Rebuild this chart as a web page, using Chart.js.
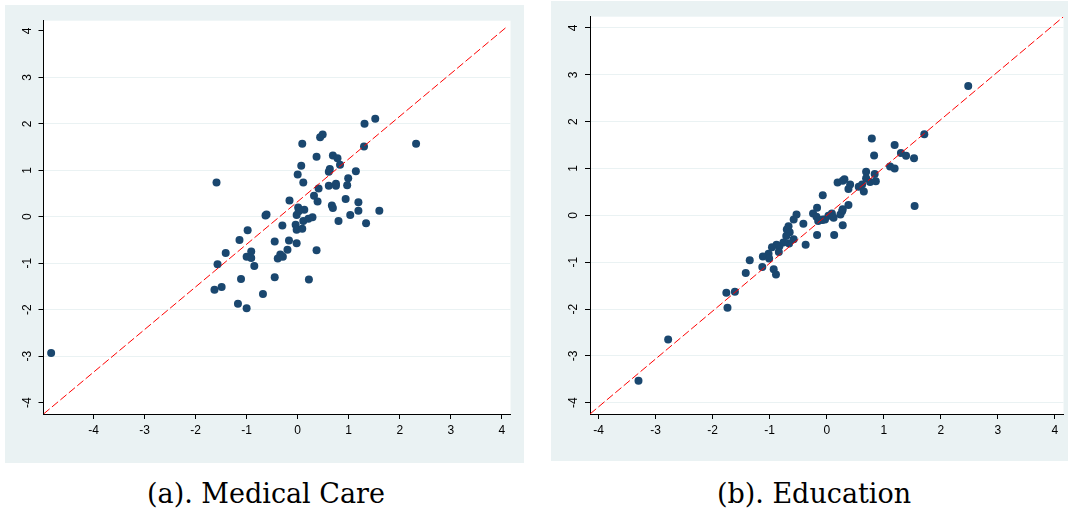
<!DOCTYPE html>
<html>
<head>
<meta charset="utf-8">
<script src="https://cdn.jsdelivr.net/npm/chart.js@4/dist/chart.umd.min.js"></script>
<style>
  body { margin: 0; background: #fff; width: 1068px; height: 508px; position: relative; overflow: hidden; }
  canvas { position: absolute; background: #eaf2f3; }
  #chartA { left: 5px; top: 5px; }
  #chartB { left: 551px; top: 1px; }
  .caption {
    position: absolute; top: 479px; width: 400px; text-align: center;
    font-family: "DejaVu Serif", serif; font-size: 27px; line-height: 30px;
    color: #000; white-space: pre;
  }
</style>
</head>
<body>
<canvas id="chartA" width="519" height="458"></canvas>
<canvas id="chartB" width="517" height="460"></canvas>
<div class="caption" style="left:66px">(a). Medical Care</div>
<div class="caption" style="left:614px">(b). Education</div>
<script>
var tickValues = [-4, -3, -2, -1, 0, 1, 2, 3, 4];

// (a) Medical Care
var medX = [0.09, 0.37, 0.07, 0.00, 0.11, -1.59, 0.32, 0.39, -0.16, 0.01, 0.13, -0.02, 0.02, -0.63, -0.61,
  0.11, 0.21, 0.29, -0.30, -0.04, -0.02, 0.09, -0.98, -1.14, -0.45, -0.17, -0.02, -0.20, -0.34, -0.39,
  -0.29, -0.91, -1.00, -0.91, -1.41, -0.85, -1.57, -1.11, -0.45, -1.63, -1.49, -0.68, -1.17, -1.00, 0.22,
  0.37, 1.52, 1.31, 2.32, 0.44, 0.49, 1.30, 0.69, 0.78, 0.83, 1.14, 0.63, 0.61, 0.99, 0.61,
  0.75, 0.75, 0.97, 0.41, 0.94, 1.19, 1.19, 0.67, 0.69, 1.60, 1.03, 0.80, 1.34, -4.83];
var medY = [1.57, 1.29, 1.10, 0.91, 0.74, 0.74, 0.45, 0.33, 0.35, 0.20, 0.15, 0.04, 0.12, 0.03, 0.05,
  -0.09, -0.04, -0.01, -0.19, -0.17, -0.28, -0.26, -0.29, -0.50, -0.53, -0.51, -0.57, -0.71, -0.81, -0.90,
  -0.86, -0.75, -0.86, -0.89, -0.78, -1.06, -1.02, -1.34, -1.30, -1.57, -1.51, -1.66, -1.87, -1.97, -1.35,
  -0.72, 2.11, 2.00, 1.57, 1.71, 1.77, 1.51, 1.32, 1.26, 1.12, 0.98, 1.03, 0.97, 0.83, 0.67,
  0.71, 0.67, 0.68, 0.61, 0.38, 0.31, 0.13, 0.24, 0.19, 0.13, 0.04, -0.09, -0.14, -2.93];
var medLine = [[-4.98, -4.245], [4.1, 4.09]];

// (b) Education
var eduX = [-0.07, -0.17, -0.24, -0.18, -0.15, -0.07, -0.53, -0.58, -0.41, -0.17, -0.37, -0.58, -0.67, -0.70, -0.65,
  -0.71, -0.66, -0.76, -0.83, -0.88, -0.96, -0.84, -1.02, -1.12, -1.01, -1.35, -1.13, -0.93, -0.89, -1.42,
  -1.76, -1.61, -1.74, 1.71, 0.79, 1.19, 0.83, 1.30, 1.39, 1.53, 1.11, 1.19, 0.69, 0.69, 0.84,
  0.76, 0.86, 0.19, 0.31, 0.28, 0.41, 0.38, 0.56, 0.62, 0.65, 0.38, 0.27, 0.24, 0.28, 0.09,
  0.12, 0.03, -0.03, -0.08, 0.28, 0.13, 1.54, 2.48, -2.78, -3.30];
var eduY = [0.43, 0.16, 0.04, -0.03, -0.12, -0.09, 0.02, -0.09, -0.18, -0.42, -0.63, -0.51, -0.23, -0.30, -0.36,
  -0.44, -0.60, -0.58, -0.66, -0.63, -0.68, -0.78, -0.82, -0.88, -0.92, -0.96, -1.10, -1.15, -1.26, -1.23,
  -1.65, -1.63, -1.97, 1.73, 1.64, 1.50, 1.28, 1.33, 1.27, 1.22, 1.04, 1.00, 0.93, 0.79, 0.88,
  0.71, 0.73, 0.70, 0.77, 0.74, 0.66, 0.56, 0.61, 0.66, 0.51, 0.22, 0.09, 0.02, 0.13, 0.04,
  -0.05, -0.01, -0.09, -0.10, -0.21, -0.42, 0.20, 2.76, -2.65, -3.53];
var eduLine = [[-4.15, -4.24], [4.15, 4.24]];

Chart.defaults.font.family = '"Liberation Sans", Arial, sans-serif';
Chart.defaults.font.size = 12;
Chart.defaults.color = '#000';

var whitePlot = {
  id: 'whitePlot',
  beforeDraw: function(chart) {
    var a = chart.chartArea, c = chart.ctx;
    c.save();
    c.fillStyle = '#fff';
    c.fillRect(a.left, a.top, a.right - a.left, a.bottom - a.top);
    c.restore();
  }
};

// stata style vertical y labels
var rotatedYLabels = {
  id: 'rotatedYLabels',
  afterDraw: function(chart) {
    var y = chart.scales.y, c = chart.ctx;
    c.save();
    c.font = '12px "Liberation Sans", Arial, sans-serif';
    c.fillStyle = '#000';
    c.textAlign = 'center';
    c.textBaseline = 'middle';
    tickValues.forEach(function(v) {
      c.save();
      c.translate(y.right - 16, y.getPixelForValue(v));
      c.rotate(-Math.PI / 2);
      c.fillText(String(v), 0, 0);
      c.restore();
    });
    c.restore();
  }
};

function toPoints(xs, ys) {
  return xs.map(function(x, i) { return { x: x, y: ys[i] }; });
}

function fixedTicks(scale) {
  scale.ticks = tickValues.map(function(v) { return { value: v }; });
}

function makeChart(id, xs, ys, line, o) {
  return new Chart(document.getElementById(id), {
    type: 'scatter',
    data: {
      datasets: [{
        type: 'line',
        data: line.map(function(p) { return { x: p[0], y: p[1] }; }),
        borderColor: '#ff0000',
        borderWidth: 1,
        borderDash: [8, 3],
        pointRadius: 0,
        fill: false,
        order: 0
      }, {
        data: toPoints(xs, ys),
        backgroundColor: '#1a476f',
        borderWidth: 0,
        pointRadius: 4,
        order: 1
      }]
    },
    options: {
      responsive: false,
      animation: false,
      devicePixelRatio: 1,
      layout: { padding: { left: 0, right: o.padRight, top: o.padTop, bottom: 0 } },
      plugins: { legend: { display: false }, tooltip: { enabled: false } },
      scales: {
        x: {
          type: 'linear', min: o.xMin, max: o.xMax,
          afterBuildTicks: fixedTicks,
          afterFit: function(s) { s.height = o.xAxisH; },
          grid: { drawOnChartArea: false, tickLength: 5, tickColor: '#000' },
          border: { color: '#000', width: 1 },
          ticks: { padding: 4, maxRotation: 0, callback: function(v) { return String(v); } }
        },
        y: {
          type: 'linear', min: o.yMin, max: o.yMax,
          afterBuildTicks: fixedTicks,
          afterFit: function(s) { s.width = o.yAxisW; },
          grid: {
            tickLength: 5, tickColor: '#000',
            color: function(ctx) {
              if (!o.edgeGrid && Math.abs(ctx.tick.value) === 4) return 'rgba(0,0,0,0)';
              return '#eaf2f3';
            }
          },
          border: { color: '#000', width: 1 },
          ticks: { color: 'rgba(0,0,0,0)' }
        }
      }
    },
    plugins: [whitePlot, rotatedYLabels]
  });
}

makeChart('chartA', medX, medY, medLine, {
  xMin: -4.98, xMax: 4.17, yMin: -4.245, yMax: 4.22,
  padRight: 13.5, padTop: 15.7, xAxisH: 49, yAxisW: 38.5, edgeGrid: false
});
makeChart('chartB', eduX, eduY, eduLine, {
  xMin: -4.15, xMax: 4.15, yMin: -4.24, yMax: 4.24,
  padRight: 4.5, padTop: 15.7, xAxisH: 47, yAxisW: 39, edgeGrid: true
});
</script>
</body>
</html>
